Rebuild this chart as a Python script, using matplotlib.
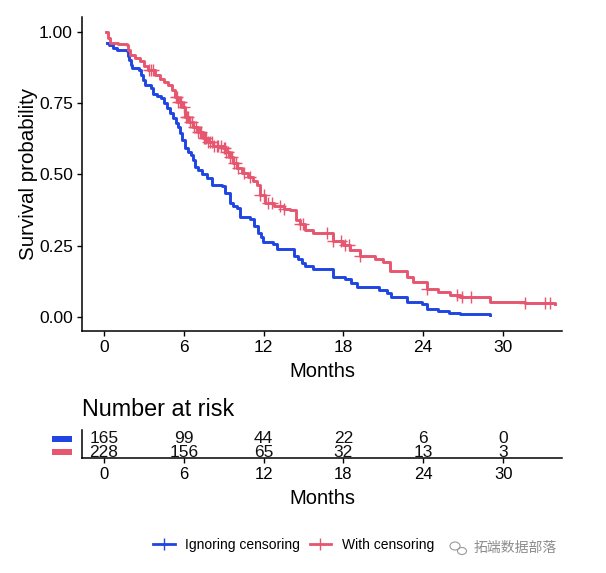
import matplotlib
matplotlib.use("Agg")
import numpy as np
import matplotlib.pyplot as plt
from matplotlib.lines import Line2D
from matplotlib.patches import Rectangle, Ellipse
from matplotlib.transforms import blended_transform_factory

plt.rcParams['font.family'] = ['Liberation Sans', 'Noto Sans CJK SC', 'DejaVu Sans']

ignoring_t = [0.25, 0.4, 0.7, 0.95, 1.7, 1.8, 1.9, 2.0, 2.13, 2.65, 2.8, 2.95, 3.08, 3.53, 3.7, 4.0, 4.29, 4.5, 4.71,
              4.95, 5.2, 5.4, 5.55, 5.71, 5.85, 6.09, 6.3, 6.54, 6.7, 6.84, 7.1, 7.4, 7.72, 8.1, 8.85, 9.1, 9.35, 9.47,
              9.7, 9.98, 10.2, 11.0, 11.3, 11.6, 11.8, 11.98, 12.7, 13.0, 14.0, 14.25, 14.6, 14.85, 15.1, 15.7, 17.0,
              17.25, 18.1, 18.6, 19.0, 20.1, 20.7, 21.25, 21.6, 22.6, 22.75, 23.9, 24.3, 25.1, 25.9, 26.8, 29.0]
ignoring_s = [0.962, 0.955, 0.945, 0.937, 0.934, 0.915, 0.90, 0.885, 0.873, 0.867, 0.85, 0.83, 0.814, 0.802, 0.782,
              0.775, 0.767, 0.75, 0.732, 0.715, 0.697, 0.68, 0.665, 0.645, 0.62, 0.592, 0.58, 0.568, 0.55, 0.527,
              0.515, 0.50, 0.487, 0.463, 0.461, 0.436, 0.434, 0.40, 0.39, 0.382, 0.352, 0.343, 0.32, 0.294, 0.28,
              0.264, 0.256, 0.239, 0.237, 0.214, 0.205, 0.19, 0.179, 0.167, 0.167, 0.139, 0.133, 0.12, 0.106, 0.104,
              0.095, 0.083, 0.069, 0.069, 0.054, 0.045, 0.027, 0.022, 0.014, 0.009, 0.007]

censoring_t = [0.13, 0.33, 0.45, 1.08, 1.7, 1.82, 1.95, 2.3, 2.7, 3.0, 3.33, 3.8, 4.2, 4.5, 4.83, 5.1, 5.34, 5.6, 5.84,
               6.09, 6.4, 6.7, 7.1, 7.47, 7.8, 8.2, 8.97, 9.2, 9.47, 9.7, 9.98, 10.4, 10.85, 11.2, 11.48, 11.73, 12.1,
               12.8, 13.5, 14.0, 14.4, 14.7, 15.1, 15.7, 16.9, 17.25, 18.0, 18.5, 19.25, 20.1, 20.4, 21.0, 21.5, 22.6,
               22.75, 23.25, 23.9, 24.3, 25.1, 26.0, 26.8, 29.05, 31.65, 33.9]
censoring_s = [1.0, 0.978, 0.962, 0.958, 0.954, 0.935, 0.919, 0.908, 0.896, 0.88, 0.867, 0.85, 0.834, 0.825, 0.814,
               0.795, 0.773, 0.755, 0.738, 0.703, 0.685, 0.668, 0.648, 0.627, 0.612, 0.598, 0.592, 0.578, 0.562, 0.54,
               0.522, 0.505, 0.492, 0.478, 0.463, 0.428, 0.399, 0.39, 0.378, 0.375, 0.34, 0.325, 0.305, 0.296, 0.296,
               0.268, 0.253, 0.235, 0.214, 0.214, 0.202, 0.194, 0.162, 0.161, 0.141, 0.124, 0.124, 0.10, 0.089, 0.077,
               0.069, 0.052, 0.05, 0.047]
censor_marks = [3.4, 3.5, 3.7, 5.4, 5.5, 5.6, 5.7, 5.8, 6.0, 6.15, 6.25, 6.35, 6.5, 6.6, 6.8, 6.95, 7.1, 7.2, 7.3, 7.5,
                7.6, 7.7, 7.85, 8.0, 8.15, 8.3, 8.5, 8.6, 8.8, 9.0, 9.1, 9.2, 9.3, 9.5, 9.6, 9.75, 9.9, 10.05, 10.5,
                11.0, 11.73, 12.03, 12.35, 12.6, 13.23, 13.56, 14.74, 14.99, 16.8, 17.25, 17.8, 18.12, 18.4, 19.25,
                24.3, 26.5, 26.9, 27.6, 31.65, 33.16, 33.5]

x_ticks = [0, 6, 12, 18, 24, 30]
y_ticks = [0.0, 0.25, 0.5, 0.75, 1.0]
y_labels = ['0.00', '0.25', '0.50', '0.75', '1.00']
risk_ignoring = [165, 99, 44, 22, 6, 0]
risk_censoring = [228, 156, 65, 32, 13, 3]
series_names = ['Ignoring censoring', 'With censoring']

BLUE = '#1F45E2'
RED = '#E6566F'
W, H = 606, 573


def rect(left, top, right, bottom):
    return [left / W, 1 - bottom / H, (right - left) / W, (bottom - top) / H]


def step_value(xs, ys, q):
    i = np.searchsorted(xs, q, side='right') - 1
    return ys[max(i, 0)]


fig = plt.figure(figsize=(W / 100, H / 100), dpi=100)
ax = fig.add_axes(rect(82, 17, 562, 331))
ax.step(ignoring_t, ignoring_s, where='post', color=BLUE, lw=2.1, solid_joinstyle='round')
ax.step(censoring_t, censoring_s, where='post', color=RED, lw=2.1, solid_joinstyle='round')
mark_y = [step_value(censoring_t, censoring_s, q) for q in censor_marks]
ax.plot(censor_marks, mark_y, ls='none', marker='+', ms=8, mew=1.0, color=RED)
ax.set_xlim(-1.65, 34.43)
ax.set_ylim(-0.049, 1.052)
ax.set_xticks(x_ticks)
ax.set_yticks(y_ticks, y_labels)
ax.set_xlabel('Months', fontsize=14.5, labelpad=5)
ax.set_ylabel('Survival probability', fontsize=14.8, labelpad=1)
ax.tick_params(labelsize=12.5, length=3.5, width=1, pad=3, colors='black')
for s in ['top', 'right']:
    ax.spines[s].set_visible(False)
for s in ['left', 'bottom']:
    ax.spines[s].set_linewidth(1.1)

rx = fig.add_axes(rect(82, 430, 562, 458))
rx.set_xlim(-1.65, 34.43)
rx.set_ylim(0.54, 2.69)
for t, a, b in zip(x_ticks, risk_ignoring, risk_censoring):
    rx.text(t, 2, str(a), ha='center', va='center', fontsize=12.5, color='#111111')
    rx.text(t, 1, str(b), ha='center', va='center', fontsize=12.5, color='#111111')
rx.set_xticks(x_ticks)
rx.set_yticks([])
rx.set_xlabel('Months', fontsize=14.5, labelpad=5)
rx.set_title('Number at risk', loc='left', fontsize=16.8, pad=10)
rx.tick_params(labelsize=12, length=3.5, width=1, pad=3)
for s in ['top', 'right']:
    rx.spines[s].set_visible(False)
for s in ['left', 'bottom']:
    rx.spines[s].set_linewidth(1.1)
tr = blended_transform_factory(rx.transAxes, rx.transData)
for y, c in [(2, BLUE), (1, RED)]:
    rx.add_patch(Rectangle((-30 / 480, y - 0.2), 20 / 480, 0.4, transform=tr, color=c, clip_on=False, lw=0))

handles = [Line2D([], [], color=BLUE, lw=2, marker='+', ms=8, mew=1),
           Line2D([], [], color=RED, lw=2, marker='+', ms=8, mew=1)]
fig.legend(handles, series_names, loc='center left', bbox_to_anchor=(149 / W, 1 - 545 / H), ncol=2,
           frameon=False, fontsize=10, handlelength=1.55, columnspacing=0.7, handletextpad=0.75,
           borderpad=0.3, borderaxespad=0)

fig.text(473 / W, 1 - 548 / H, '拓端数据部落', fontsize=10, color='#8C8C8C', va='center', ha='left',
         family=['Noto Sans CJK SC', 'DejaVu Sans'])
fig.add_artist(Ellipse((455 / W, 1 - 546 / H), 10 / W, 8 / H, transform=fig.transFigure, fill=False, ec='#9A9A9A', lw=0.8))
fig.add_artist(Ellipse((462 / W, 1 - 551 / H), 9 / W, 7 / H, transform=fig.transFigure, fill=False, ec='#9A9A9A', lw=0.8))

fig.savefig('out.png', dpi=100)
